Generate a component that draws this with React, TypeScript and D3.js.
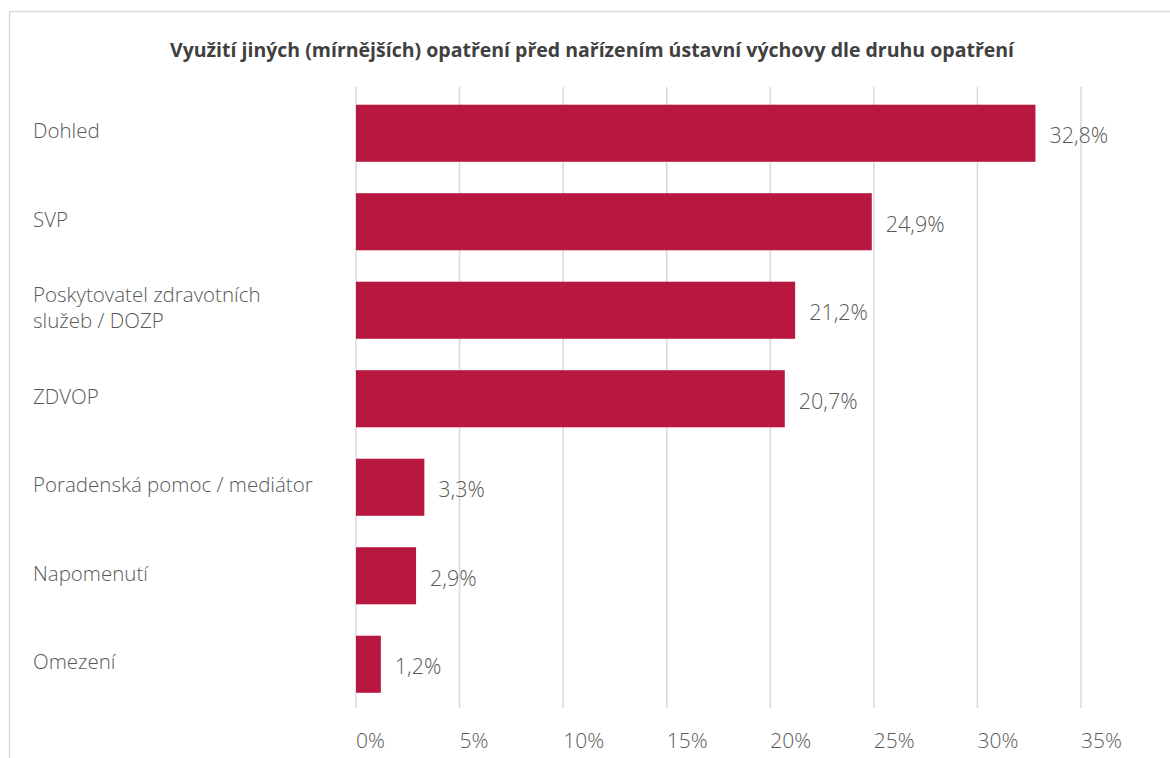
import { useMemo } from "react";
import * as d3 from "d3";

// chart data
const categories = [
	["Dohled"],
	["SVP"],
	["Poskytovatel zdravotních", "služeb / DOZP"],
	["ZDVOP"],
	["Poradenská pomoc / mediátor"],
	["Napomenutí"],
	["Omezení"],
];
const values = [32.8, 24.9, 21.2, 20.7, 3.3, 2.9, 1.2];
const ticks = [0, 5, 10, 15, 20, 25, 30, 35];

const title = "Využití jiných (mírnějších) opatření před nařízením ústavní výchovy dle druhu opatření";

const width = 1170,
	height = 758;
const plot = { left: 356, right: 1081, top: 87, bottom: 708 };
const barColor = "#b8173f";
const textColor = "#595959";
const font = "'Open Sans', 'Noto Sans', sans-serif";

const fmt = (v) => v.toFixed(1).replace(".", ",") + "%";

export default function App() {
	const x = useMemo(() => d3.scaleLinear().domain([0, 35]).range([plot.left, plot.right]), []);
	const y = useMemo(
		() =>
			d3
				.scaleBand()
				.domain(categories.map((_, i) => String(i)))
				.range([plot.top, 710.5])
				.paddingInner(0.355)
				.paddingOuter(0.2),
		[]
	);

	return (
		<svg
			width={width}
			height={height}
			style={{ position: "absolute", left: 0, top: 0, display: "block" }}
			fontFamily={font}
		>
			<rect x={0} y={0} width={width} height={height} fill="#fff" />
			<rect x={9.5} y={11.5} width={width} height={height} fill="none" stroke="#d9d9d9" strokeWidth={1.5} />

			<text x={592} y={57} textAnchor="middle" fontSize="19.5" fontWeight="bold" fill="#404040">
				{title}
			</text>

			{/* gridlines */}
			{ticks.map((t) => (
				<g key={t}>
					<line x1={x(t)} x2={x(t)} y1={plot.top} y2={plot.bottom} stroke="#d9d9d9" strokeWidth={1.5} />
					<text x={x(t)} y={748} fontSize="21" fill={textColor} fontWeight="300">
						{t}%
					</text>
				</g>
			))}

			{/* bars */}
			{values.map((v, i) => {
				const yy = y(String(i));
				const bw = y.bandwidth();
				const cy = yy + bw / 2;
				const lines = categories[i];
				return (
					<g key={i}>
						<rect x={x(0)} y={yy} width={x(v) - x(0)} height={bw} fill={barColor} />
						<text x={x(v) + 14} y={cy + 10} fontSize="21.5" fill={textColor} fontWeight="300">
							{fmt(v)}
						</text>
						{lines.map((l, j) => (
							<text
								key={j}
								x={33}
								y={cy + 5 + (j - (lines.length - 1) / 2) * 26}
								fontSize="20.5"
								fill={textColor}
								fontWeight="300"
							>
								{l}
							</text>
						))}
					</g>
				);
			})}
		</svg>
	);
}
